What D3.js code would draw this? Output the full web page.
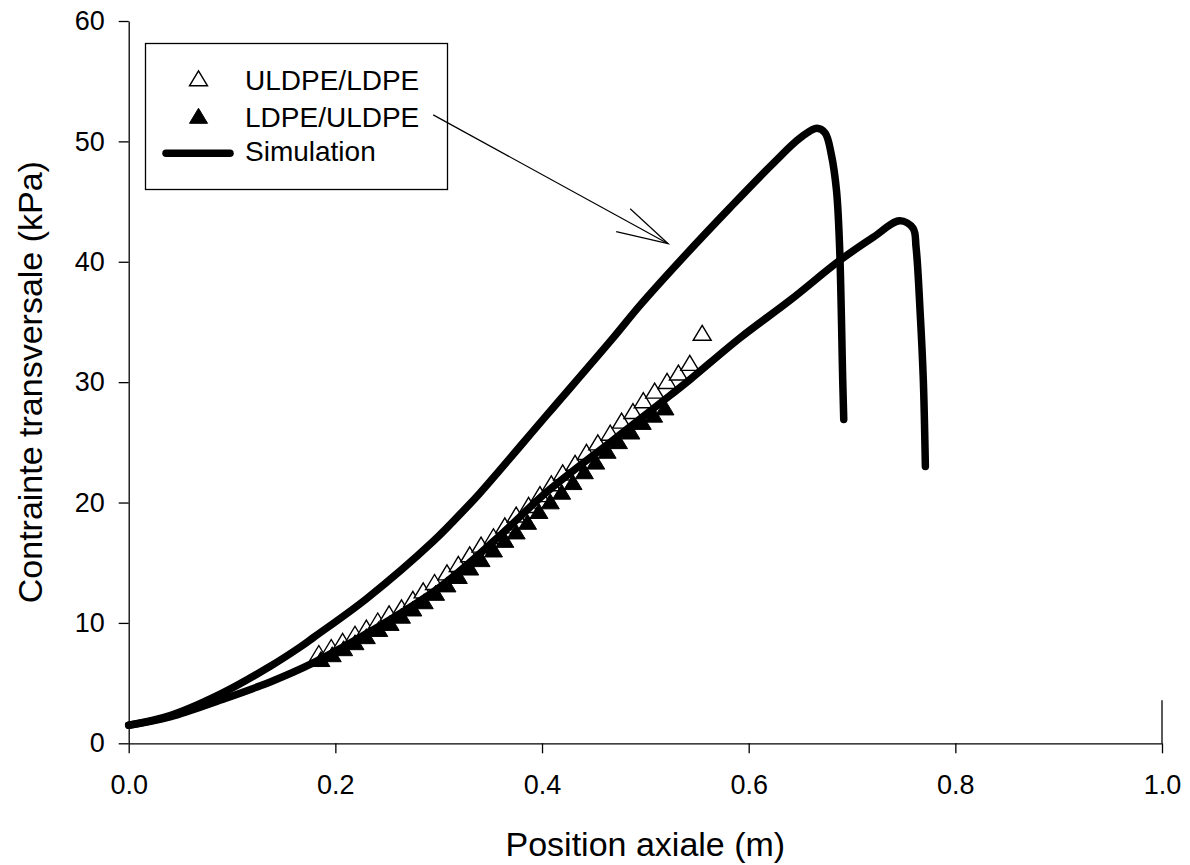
<!DOCTYPE html>
<html><head><meta charset="utf-8">
<script src="https://cdn.jsdelivr.net/npm/d3@7"></script>
<style>
html,body{margin:0;padding:0;background:#fff;}
svg{display:block;}
text{font-family:"Liberation Sans",Arial,Helvetica,sans-serif;fill:#000;}
</style></head>
<body>
<svg id="chart" width="1190" height="865"></svg>
<script>
// ---- data ----
const xTicks = [0, 0.2, 0.4, 0.6, 0.8, 1.0];
const yTicks = [0, 10, 20, 30, 40, 50, 60];
const seriesNames = ["ULDPE/LDPE", "LDPE/ULDPE", "Simulation"];
const xLabel = "Position axiale (m)";
const yLabel = "Contrainte transversale (kPa)";

// ULDPE/LDPE (open triangles)
const openX = [0.184,0.196,0.207,0.219,0.230,0.241,0.252,0.264,0.275,0.285,0.296,0.308,0.319,0.330,0.341,0.353,0.364,0.375,0.387,0.398,0.409,0.420,0.432,0.443,0.454,0.466,0.477,0.488,0.498,0.509,0.521,0.532,0.543,0.555];
const openY = [7.5,8.0,8.5,9.1,9.6,10.2,10.8,11.3,12.0,12.7,13.4,14.2,14.9,15.7,16.5,17.2,18.1,19.0,19.8,20.7,21.6,22.5,23.3,24.2,25.0,25.8,26.8,27.6,28.5,29.3,30.1,30.8,31.6,34.1];

// LDPE/ULDPE (filled triangles)
const filledX = [0.186,0.197,0.208,0.219,0.230,0.242,0.253,0.264,0.275,0.286,0.297,0.308,0.319,0.330,0.341,0.353,0.364,0.375,0.386,0.397,0.408,0.419,0.430,0.441,0.452,0.463,0.474,0.486,0.497,0.508,0.519];
const filledY = [7.0,7.4,7.9,8.4,8.9,9.5,10.0,10.6,11.2,11.8,12.5,13.2,13.9,14.6,15.3,16.1,16.9,17.6,18.4,19.3,20.1,20.9,21.7,22.6,23.4,24.3,25.1,25.9,26.7,27.3,27.9];

// Simulation, upper curve
const sim1X = [0.000,0.040,0.089,0.137,0.166,0.179,0.230,0.295,0.327,0.340,0.405,0.469,0.495,0.537,0.582,0.624,0.650,0.666,0.674,0.680,0.685,0.688,0.691,0.692];
const sim1Y = [1.5,2.3,4.1,6.4,8.0,8.8,12.0,16.8,19.6,20.8,27.3,33.7,36.4,40.4,44.5,48.2,50.3,51.1,50.7,48.9,45.9,41.2,30.2,26.9];

// Simulation, lower curve
const sim2X = [0.000,0.040,0.089,0.137,0.179,0.234,0.300,0.356,0.405,0.469,0.524,0.543,0.592,0.640,0.688,0.720,0.746,0.759,0.762,0.766,0.769,0.771];
const sim2Y = [1.5,2.2,3.6,5.1,6.7,9.3,12.9,17.0,20.9,25.2,28.9,30.2,33.7,36.8,40.1,42.0,43.4,42.8,41.2,35.7,30.2,23.0];

// annotation arrow (data coordinates)
const arrowFrom = [0.2947, 52.2];
const arrowTo = [0.5221, 41.5];

// ---- drawing ----
const svg = d3.select("#chart");
const x = d3.scaleLinear().domain([0, 1]).range([128.7, 1162]);
const y = d3.scaleLinear().domain([0, 60]).range([743.3, 21]);

const zip = (a, b) => a.map((v, i) => [v, b[i]]);

// axes
const xAxis = d3.axisBottom(x).tickValues(xTicks).tickFormat(d3.format(".1f"))
  .tickSize(10).tickSizeOuter(0).tickPadding(22);
const gx = svg.append("g").attr("transform", `translate(0,${y(0)})`).call(xAxis);
const yAxis = d3.axisLeft(y).tickValues(yTicks).tickFormat(d3.format("d"))
  .tickSize(10).tickSizeOuter(0).tickPadding(14);
const gy = svg.append("g").attr("transform", `translate(${x(0)},0)`).call(yAxis);
[gx, gy].forEach(g => {
  g.selectAll("path.domain").attr("stroke", "#000").attr("stroke-width", 1.3);
  g.selectAll(".tick line").attr("stroke", "#000").attr("stroke-width", 1.3);
  g.selectAll(".tick text").attr("font-size", 27).attr("font-family", '"Liberation Sans",Arial,sans-serif').attr("fill", "#000");
});
// small upward extension at the end of the x axis
svg.append("line").attr("x1", x(1)).attr("x2", x(1)).attr("y1", y(0)).attr("y2", y(0) - 43)
  .attr("stroke", "#000").attr("stroke-width", 1.3);

// axis titles
svg.append("text").attr("x", (x(0) + x(1)) / 2).attr("y", 856)
  .attr("text-anchor", "middle").attr("font-size", 34).text(xLabel);
svg.append("text").attr("transform", `translate(42,${(y(0) + y(60)) / 2}) rotate(-90)`)
  .attr("text-anchor", "middle").attr("font-size", 34).text(yLabel);

// triangle path centered on bbox center
const TW = 18, TH = 15;
const tri = `M0,${-TH/2}L${TW/2},${TH/2}L${-TW/2},${TH/2}Z`;

// open triangles
svg.append("g").selectAll("path").data(zip(openX, openY)).join("path")
  .attr("d", tri).attr("transform", d => `translate(${x(d[0])},${y(d[1])})`)
  .attr("fill", "#fff").attr("stroke", "#000").attr("stroke-width", 1.4);

// filled triangles
svg.append("g").selectAll("path").data(zip(filledX, filledY)).join("path")
  .attr("d", tri).attr("transform", d => `translate(${x(d[0])},${y(d[1])})`)
  .attr("fill", "#000").attr("stroke", "#000").attr("stroke-width", 1);

// simulation curves
const line = d3.line().x(d => x(d[0])).y(d => y(d[1])).curve(d3.curveCatmullRom.alpha(0.5));
[zip(sim1X, sim1Y), zip(sim2X, sim2Y)].forEach(data => {
  svg.append("path").attr("d", line(data)).attr("fill", "none").attr("stroke", "#000")
    .attr("stroke-width", 7.5).attr("stroke-linejoin", "round").attr("stroke-linecap", "round");
});

// legend
const lg = svg.append("g");
lg.append("rect").attr("x", 145.5).attr("y", 43.5).attr("width", 302).attr("height", 146)
  .attr("fill", "#fff").attr("stroke", "#000").attr("stroke-width", 1.3);
lg.append("path").attr("d", tri).attr("transform", "translate(198.5,78.3)")
  .attr("fill", "#fff").attr("stroke", "#000").attr("stroke-width", 1.4);
lg.append("path").attr("d", tri).attr("transform", "translate(198.5,115.8)")
  .attr("fill", "#000").attr("stroke", "#000").attr("stroke-width", 1);
lg.append("line").attr("x1", 166).attr("x2", 230).attr("y1", 153.3).attr("y2", 153.3)
  .attr("stroke", "#000").attr("stroke-width", 7.5).attr("stroke-linecap", "round");
const ly = [90, 127, 161];
seriesNames.forEach((n, i) => {
  lg.append("text").attr("x", 245).attr("y", ly[i]).attr("font-size", 28).text(n);
});

// annotation arrow (drawn over the legend box)
const ax0 = x(arrowFrom[0]), ay0 = y(arrowFrom[1]), ax1 = x(arrowTo[0]), ay1 = y(arrowTo[1]);
svg.append("line").attr("x1", ax0).attr("y1", ay0).attr("x2", ax1).attr("y2", ay1)
  .attr("stroke", "#000").attr("stroke-width", 1.2);
svg.append("path")
  .attr("d", `M${ax1 - 38},${ay1 - 35}L${ax1},${ay1}L${ax1 - 52},${ay1 - 12}`)
  .attr("fill", "none").attr("stroke", "#000").attr("stroke-width", 1.2);
</script>
</body></html>
